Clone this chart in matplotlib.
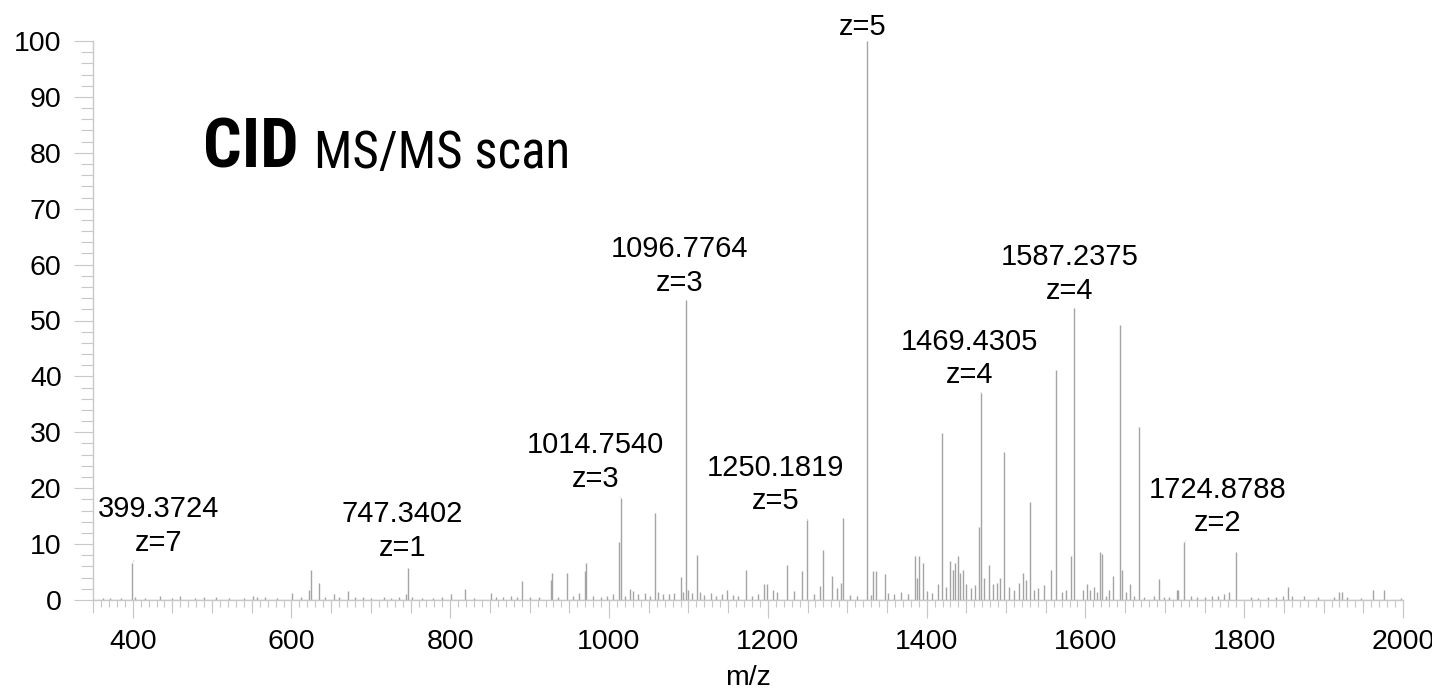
import matplotlib
matplotlib.use("Agg")
import matplotlib.pyplot as plt
from matplotlib import font_manager
from matplotlib.font_manager import FontProperties, findfont
from matplotlib.ticker import MultipleLocator, FixedLocator, NullFormatter

# ---------------- data ----------------
peak_mz = [
    362, 372, 385, 399.37, 403, 416, 434, 450, 460, 478, 490, 505, 521, 540, 552, 556, 567, 582,
    601, 612, 622, 624.2, 634.7, 642, 653.6, 660, 671.3, 680, 690, 700, 716, 725, 735, 744,
    747.34, 752, 765, 778, 790, 800.6, 818.7, 830, 851, 858, 866, 876, 884, 890, 900, 912,
    927, 928.7, 936, 947.6, 955, 962, 970, 971.5, 980, 990, 998, 1005, 1013.1, 1014.75, 1020,
    1026.5, 1030, 1036, 1045, 1052, 1058, 1062, 1068, 1075, 1082, 1090.4, 1093, 1096.78, 1100,
    1104, 1110.5, 1114, 1120, 1128, 1135, 1142, 1149, 1156, 1163, 1172.3, 1180, 1188,
    1195, 1199, 1205.9, 1212, 1223.5, 1233, 1243.6, 1249.9, 1258, 1265.5, 1270, 1280.6, 1287,
    1292, 1294.9, 1304, 1312, 1324.7, 1329.8, 1333, 1336, 1347.4, 1351.6, 1359, 1368, 1376,
    1385.2, 1387.7, 1390.6, 1395.7, 1401, 1407, 1413.7, 1419.2, 1424, 1429.7, 1432.6, 1435.5,
    1439.7, 1442.2, 1445.2, 1449.4, 1455.7, 1460.7, 1466.2, 1468.7, 1472.5, 1478.8, 1484, 1489,
    1492.5, 1497.6, 1504, 1510, 1516, 1522, 1525, 1530, 1535.5, 1540.5, 1548, 1556.5, 1562.8,
    1570, 1575, 1581.7, 1585.9, 1596.4, 1601.9, 1606, 1610.3, 1614.5, 1618.6, 1620.3, 1625.8,
    1630, 1635, 1643.8, 1646, 1651, 1656.4, 1661.5, 1667, 1674, 1685.8, 1693, 1699, 1705.6,
    1715, 1717, 1724.5, 1733, 1741, 1750.5, 1760, 1766.5, 1775, 1781, 1790, 1808.5, 1817,
    1829.5, 1840, 1848.4, 1854.7, 1859.7, 1874.8, 1892.5, 1913.5, 1919, 1923, 1930, 1947,
    1961.7, 1976.4, 1997.4,
]
peak_int = [
    0.4, 0.3, 0.3, 6.6, 0.5, 0.3, 0.7, 0.3, 0.7, 0.4, 0.6, 0.5, 0.3, 0.4, 0.7, 0.5, 0.6, 0.4,
    1.3, 0.5, 1.8, 5.4, 3.0, 0.5, 1.0, 0.6, 1.6, 0.5, 0.6, 0.4, 0.5, 0.4, 0.5, 1.0,
    5.7, 0.6, 0.4, 0.4, 0.5, 1.1, 1.9, 0.4, 1.2, 0.6, 0.5, 0.8, 0.6, 3.4, 0.5, 0.6,
    3.6, 4.8, 0.6, 4.8, 0.8, 1.2, 5.1, 6.6, 0.7, 0.5, 0.8, 1.0, 10.3, 18.2, 0.8,
    1.9, 1.6, 1.0, 1.2, 0.8, 15.5, 1.5, 1.0, 1.1, 1.2, 4.2, 1.5, 53.7, 1.7,
    1.2, 8.0, 1.5, 0.9, 1.2, 0.8, 1.1, 1.8, 0.9, 0.8, 5.4, 0.8, 1.1,
    2.8, 2.8, 1.8, 1.5, 6.3, 1.6, 5.1, 14.4, 1.0, 2.5, 8.9, 4.3, 2.1,
    3.1, 14.7, 0.9, 0.8, 100.0, 0.9, 5.1, 5.1, 4.6, 1.3, 1.0, 1.5, 1.0,
    7.8, 3.9, 7.8, 6.6, 1.6, 1.3, 2.8, 29.8, 2.3, 7.0, 5.4, 6.6,
    7.8, 4.9, 5.4, 2.8, 2.1, 2.6, 13.0, 37.1, 3.9, 6.3, 2.8, 3.1,
    3.9, 26.4, 2.3, 1.8, 3.1, 4.9, 3.6, 17.6, 1.8, 2.1, 2.6, 5.4, 41.1,
    1.5, 1.8, 7.8, 52.2, 1.8, 2.9, 1.8, 2.3, 1.5, 8.6, 8.3, 0.7,
    1.8, 4.3, 49.2, 5.4, 1.5, 2.9, 0.8, 31.0, 0.6, 0.8, 3.7, 0.5, 0.6,
    1.7, 1.7, 10.3, 0.7, 0.6, 0.5, 0.7, 0.7, 1.0, 1.4, 8.6, 0.5, 0.4,
    0.5, 0.6, 0.8, 2.3, 0.7, 0.8, 0.6, 0.6, 1.4, 1.4, 0.5, 0.4,
    1.7, 1.7, 0.4,
]

label_mz = [399.37, 747.34, 1014.75, 1096.78, 1249.9, 1324.7, 1468.7, 1585.9, 1724.5]
label_int = [6.6, 5.7, 18.2, 53.7, 14.4, 100.0, 37.1, 52.2, 10.3]
label_text = ["399.3724\nz=7", "747.3402\nz=1", "1014.7540\nz=3", "1096.7764\nz=3",
              "1250.1819\nz=5", "z=5", "1469.4305\nz=4", "1587.2375\nz=4",
              "1724.8788\nz=2"]
# label offsets in pixels (layout)
label_dx = [26, -6, -25, -6, -32, -4, -12, -5, 33]
label_dy = [37, 37, 36, 34, 35, 14, 34, 34, 36]

x_range = (350, 2000)
y_range = (0, 100)
x_major = [400, 600, 800, 1000, 1200, 1400, 1600, 1800, 2000]

title_main = "CID"
title_sub = "MS/MS scan"

# ---------------- fonts ----------------
names = {f.name for f in font_manager.fontManager.ttflist}
base_font = "Liberation Sans" if "Liberation Sans" in names else "DejaVu Sans"
plt.rcParams["font.family"] = [base_font, "DejaVu Sans"]


def pick_narrow():
    cands = [("Liberation Sans Narrow", "normal"), ("Roboto Condensed", "normal"),
             ("Noto Sans", "condensed"), ("Noto Sans", "semi-condensed"),
             ("DejaVu Sans", "condensed"), ("Open Sans", "condensed"),
             ("Open Sans", "semi-condensed")]
    for fam, st in cands:
        try:
            p = findfont(FontProperties(family=fam, stretch=st, weight="bold"),
                         fallback_to_default=False)
        except Exception:
            continue
        pl = p.lower()
        if "condensed" in pl or "narrow" in pl:
            return fam, st
    return ("Roboto" if "Roboto" in names else base_font), "normal"


narrow_fam, narrow_stretch = pick_narrow()

W, H = 1432, 690
fig = plt.figure(figsize=(W / 100, H / 100), dpi=100)
ax = fig.add_axes([93 / W, 1 - 600 / H, (1403 - 93) / W, (600 - 41) / H])
ax.set_xlim(*x_range)
ax.set_ylim(*y_range)

axis_grey = "#c8c8c8"
peak_grey = "#a4a4a4"

ax.axhline(0, color=axis_grey, lw=1.0, zorder=1)
ax.vlines(peak_mz, 0, peak_int, colors=peak_grey, lw=1.0, zorder=2)

for mz, it, txt, dx, dy in zip(label_mz, label_int, label_text, label_dx, label_dy):
    arrow = None
    if abs(dx) > 10:
        arrow = dict(arrowstyle="-", color="#b6e6b6", lw=0.8, shrinkA=1, shrinkB=1)
    ax.annotate(txt, xy=(mz, it), xytext=(dx, dy), textcoords="offset pixels",
                ha="center", va="center", fontsize=21, linespacing=1.26,
                annotation_clip=False, arrowprops=arrow)

for s in ["top", "right"]:
    ax.spines[s].set_visible(False)
for s in ["left", "bottom"]:
    ax.spines[s].set_color(axis_grey)
    ax.spines[s].set_linewidth(1.0)

# y ticks
ax.yaxis.set_major_locator(MultipleLocator(10))
ax.yaxis.set_minor_locator(MultipleLocator(2))
ax.tick_params(axis="y", which="major", length=13.5, width=0.8, color=axis_grey,
               labelsize=20.5, pad=9)
ax.tick_params(axis="y", which="minor", length=9, width=0.8, color=axis_grey)

# x ticks
ax.xaxis.set_major_locator(FixedLocator(x_major))
ax.xaxis.set_minor_locator(MultipleLocator(10))
ax.tick_params(axis="x", which="major", length=13, width=0.8, color=axis_grey,
               labelsize=20.5, pad=8)
ax.tick_params(axis="x", which="minor", length=5, width=0.8, color=axis_grey)
sec = ax.secondary_xaxis("bottom")
sec.xaxis.set_major_locator(MultipleLocator(50))
sec.xaxis.set_major_formatter(NullFormatter())
sec.tick_params(axis="x", which="major", length=9, width=0.8, color=axis_grey)
sec.spines["bottom"].set_visible(False)

ax.set_xlabel("m/z", fontsize=20.5, labelpad=7)

# ---------------- title ----------------
renderer = fig.canvas.get_renderer()


def fitted_size(text, weight, target_w, target_cap):
    probe = fig.text(0, 0, text, fontsize=50, family=narrow_fam, stretch=narrow_stretch,
                     weight=weight)
    wpx = probe.get_window_extent(renderer).width
    probe.remove()
    cap_px = 0.72 * 50 * 100 / 72  # approximate cap height at 50pt, px
    size_h = 50 * target_cap / cap_px
    size_w = 50 * target_w / wpx
    return (size_h * size_w) ** 0.5 if size_w < size_h else size_h


s_main = fitted_size(title_main, "bold", 90, 52)
s_sub = fitted_size(title_sub, "normal", 255, 37)
t1 = fig.text(203 / W, 1 - 168 / H, title_main, fontsize=s_main, va="baseline", ha="left",
              family=narrow_fam, stretch=narrow_stretch, weight="bold")
bb = t1.get_window_extent(renderer)
fig.text((bb.x1 + 15) / W, 1 - 168 / H, title_sub, fontsize=s_sub, va="baseline",
         ha="left", family=narrow_fam, stretch=narrow_stretch, weight="normal")

fig.savefig("out.png", dpi=100, facecolor="white")
